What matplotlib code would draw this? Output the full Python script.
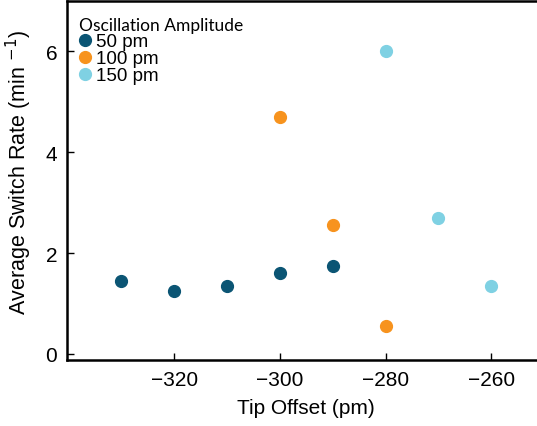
import numpy as np
import matplotlib.pyplot as plt

plt.rcParams.update({'font.family': ['Liberation Sans', 'DejaVu Sans'],
                     'font.size': 15})

# data
x_50 = [-330, -320, -310, -300, -290]
y_50 = [1.45, 1.25, 1.35, 1.6, 1.75]
x_100 = [-300, -290, -280]
y_100 = [4.7, 2.55, 0.55]
x_150 = [-280, -270, -260]
y_150 = [6.0, 2.7, 1.35]

series = [(x_50, y_50, '50 pm', '#0b5574'),
          (x_100, y_100, '100 pm', '#f7931e'),
          (x_150, y_150, '150 pm', '#7fd1e3')]

fig = plt.figure(figsize=(5.37, 4.27), dpi=100)
ax = fig.add_axes([67 / 537, 1 - 361 / 427, (544 - 67) / 537, (361 - 2) / 427])

for xs, ys, lab, col in series:
    ax.plot(xs, ys, 'o', color=col, markersize=8.5, label=lab)

ax.set_xlim(-340.3, -250)
ax.set_ylim(-0.12, 7)
ax.set_xticks([-320, -300, -280, -260])
ax.set_yticks([0, 2, 4, 6])
ax.tick_params(direction='in', length=5, width=1, labelsize=15, pad=7)
for s in ax.spines.values():
    s.set_linewidth(1.8)

ax.set_xlabel('Tip Offset (pm)', fontsize=15, labelpad=7)
ax.set_ylabel('Average Switch Rate (min $^{-1}$)', fontsize=15.5)
ax.yaxis.set_label_coords(-0.07, 0.525)

leg = ax.legend(title='Oscillation Amplitude', loc='upper left',
                bbox_to_anchor=(79 / 537, 1 - 18 / 427), bbox_transform=fig.transFigure,
                frameon=False, fontsize=13.5, title_fontsize=12.5,
                handlelength=0.6, handletextpad=0.3, labelspacing=0.0,
                borderpad=0, borderaxespad=0, alignment='left')
leg.get_title().set_family('Lato')

fig.savefig('out.png', dpi=100)
